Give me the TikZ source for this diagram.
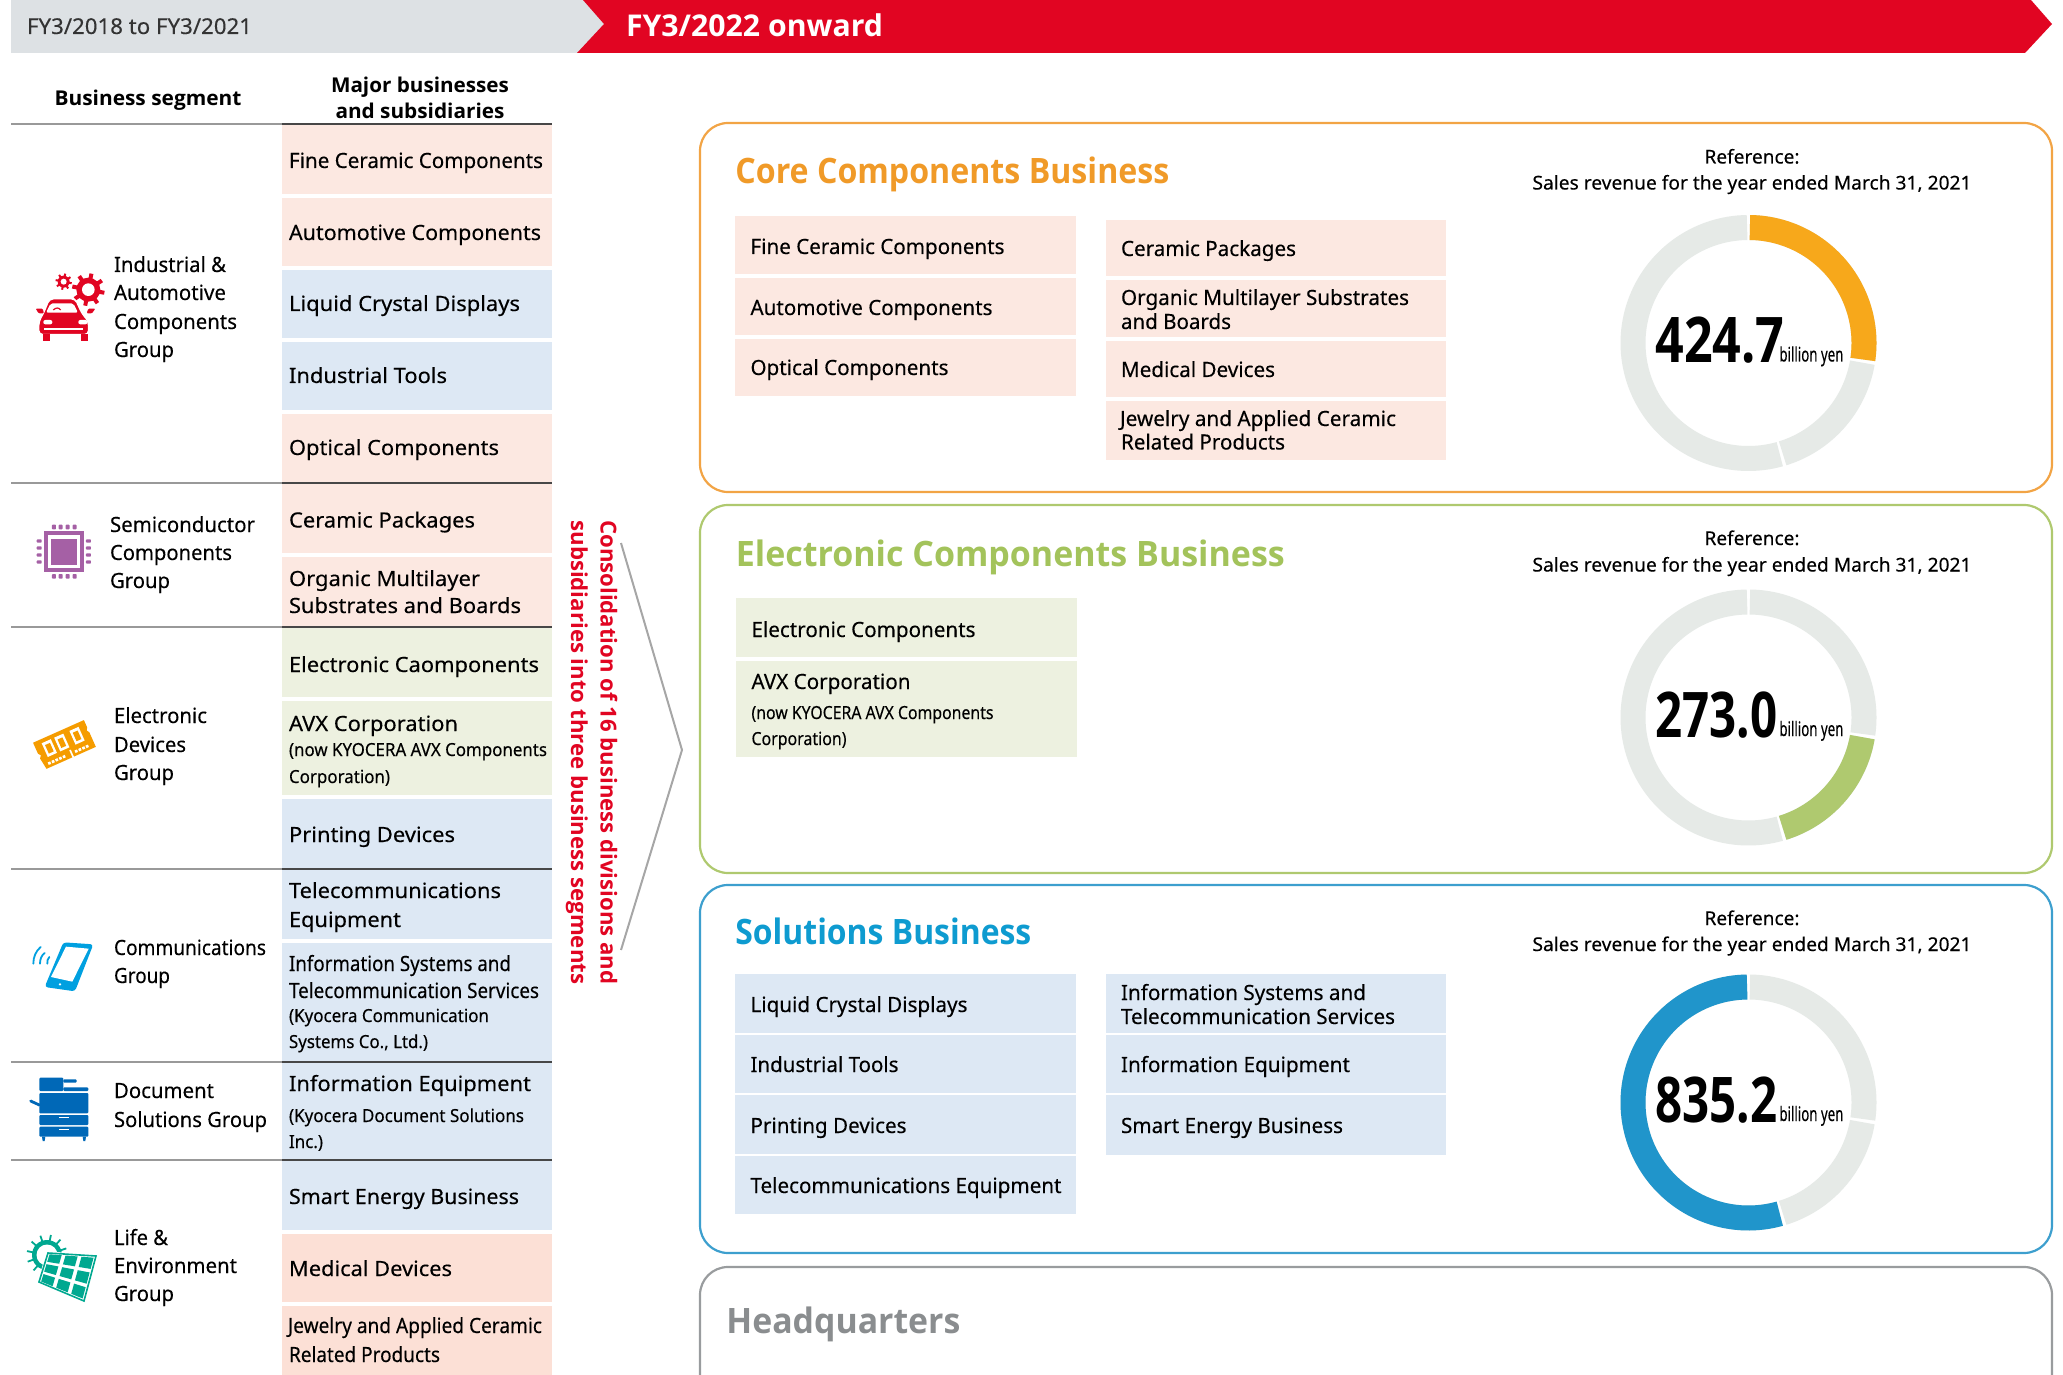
\documentclass[tikz,border=0pt]{standalone}
\usepackage{graphicx}
\usepackage{fontspec}
\setmainfont{Noto Sans}[FakeBold=0.25]
\newfontfamily\bfam{Open Sans}
\usetikzlibrary{calc}
\definecolor{peach}{HTML}{FCE8E1}
\definecolor{peachb}{HTML}{FCE0D6}
\definecolor{sky}{HTML}{DDE8F4}
\definecolor{lgreen}{HTML}{EDF1E0}
\definecolor{barg}{HTML}{DDE1E4}
\definecolor{kred}{HTML}{E10522}
\definecolor{torange}{HTML}{F09A28}
\definecolor{borange}{HTML}{F2A445}
\definecolor{dorange}{HTML}{F7A81B}
\definecolor{tgreen}{HTML}{A3C35B}
\definecolor{bgreen}{HTML}{AFC96F}
\definecolor{tblue}{HTML}{0E9BD0}
\definecolor{bblue}{HTML}{3D9FCE}
\definecolor{dblue}{HTML}{2095CB}
\definecolor{bgray}{HTML}{999C9E}
\definecolor{hqgray}{HTML}{8A8D8F}
\definecolor{ring}{HTML}{E6EAE7}
\definecolor{ipurple}{HTML}{A560A5}
\definecolor{iorange}{HTML}{F59C00}
\definecolor{iphone}{HTML}{00A0E0}
\definecolor{iprint}{HTML}{0068B7}
\definecolor{iteal}{HTML}{00A890}
\newcount\tcnt
\newsavebox\fitbox
\newcommand\fit[2]{\sbox\fitbox{#2}\pgfmathsetmacro\fitr{#1*0.5/\wd\fitbox}\scalebox{\fitr}[1]{\usebox\fitbox}}
\tikzset{
  txt/.style={anchor=base west,inner sep=0pt,outer sep=0pt,text=black,font=\fontsize{10.5pt}{12pt}\selectfont},
  small/.style={txt,font=\fontsize{9pt}{12pt}\selectfont},
  seg/.style={txt,font=\fontsize{10.5pt}{12pt}\selectfont},
  hdr/.style={anchor=base,inner sep=0pt,text=black,font=\bfam\bfseries\fontsize{10.2pt}{12pt}\selectfont},
  ttl/.style={anchor=base west,inner sep=0pt,font=\bfam\bfseries\fontsize{17.5pt}{20pt}\selectfont},
  refr/.style={anchor=base,inner sep=0pt,text=black,font=\fontsize{9.5pt}{12pt}\selectfont},
  panel/.style={line width=1.1pt,rounded corners=14pt,fill=white},
  lineg/.style={draw=black!40,line width=1pt},
  lined/.style={draw=black!72,line width=1pt},
  vert/.style={anchor=base west,rotate=-90,inner sep=0pt,text=kred,font=\bfam\bfseries\fontsize{11pt}{12pt}\selectfont},
}
\newcommand\bx[5]{\fill[#5] (#1,#2) rectangle (#3,#4);}
\newcommand\tx[5][txt]{\global\advance\tcnt by 1 \node[#1] (t\the\tcnt) at (#2,#3) {\fit{#4}{#5}};}
\newcommand\gearshape[7]{% x y rroot rhole teeth color toothwidth
  \fill[#6] (#1,#2) circle[radius=#3];
  \foreach \aa in {1,...,#5}{
    \draw[#6,line width=#7] ($(#1,#2)+({\aa*360/#5+11}:#3*0.8)$) -- ($(#1,#2)+({\aa*360/#5+11}:#3*1.36)$);
  }
  \fill[white] (#1,#2) circle[radius=#4];
}
\newcommand\donut[6]{% cy, col, a1,a2, number, width
  \coordinate (dc) at (1748.5,#1);
  \foreach \p/\q/\cc in {-89.3/8.2/ring,9.8/72.8/ring,74.3/269.3/ring}{
    \draw[line width=12.5pt,\cc,domain=\p:\q,samples=90] plot ({1748.5+115.5*cos(\x)},{#1+115.5*sin(\x)});
  }
  \draw[line width=12.5pt,#2,domain=#3:#4,samples=90] plot ({1748.5+115.5*cos(\x)},{#1+115.5*sin(\x)});
  \global\advance\tcnt by 1
  \node[anchor=base west,inner sep=0pt,text=black,font=\bfam\bfseries\fontsize{31.5pt}{32pt}\selectfont] (t\the\tcnt) at (1655,#1+20) {\fit{#6}{#5}};
  \global\advance\tcnt by 1
  \node[anchor=base west,inner sep=0pt,text=black,font=\fontsize{10pt}{12pt}\selectfont] (t\the\tcnt) at (1779,#1+18.5) {\fit{64}{billion yen}};
}
\begin{document}
\begin{tikzpicture}[x=0.5pt,y=-0.5pt]
\useasboundingbox (0,0) rectangle (2063,1375);
% top bar
\fill[barg] (11,0) -- (590,0) -- (604,24) -- (584,53) -- (11,53) -- cycle;
\fill[kred] (583,0) -- (2031,0) -- (2052,24) -- (2025,53) -- (577,53) -- (604,24) -- cycle;
\tx[txt,text=black!80,font=\fontsize{10.9pt}{12pt}\selectfont]{27}{34}{225}{FY3/2018 to FY3/2021}
\tx[txt,text=white,font=\bfam\bfseries\fontsize{15pt}{18pt}\selectfont]{626}{37}{257}{FY3/2022 onward}
% headers
\tx[hdr]{148}{105.5}{187}{Business segment}
\tx[hdr]{420}{92.5}{178}{Major businesses}
\tx[hdr]{420}{118.5}{169}{and subsidiaries}
% left table boxes
\bx{282}{124}{552}{194}{peach}
\bx{282}{198}{552}{266}{peach}
\bx{282}{270}{552}{338}{sky}
\bx{282}{342}{552}{410}{sky}
\bx{282}{414}{552}{483}{peach}
\bx{282}{483}{552}{553}{peach}
\bx{282}{557}{552}{627}{peach}
\bx{282}{627}{552}{697}{lgreen}
\bx{282}{701}{552}{795}{lgreen}
\bx{282}{799}{552}{869}{sky}
\bx{282}{869}{552}{939}{sky}
\bx{282}{943}{552}{1062}{sky}
\bx{282}{1062}{552}{1160}{sky}
\bx{282}{1160}{552}{1230}{sky}
\bx{282}{1234}{552}{1302}{peachb}
\bx{282}{1306}{552}{1375}{peachb}
% separators
\foreach \yy in {124,483,627,869,1062,1160}{
  \draw[lineg] (11,\yy) -- (282,\yy);
  \draw[lined] (282,\yy) -- (552,\yy);
}
% left table text
\tx{289}{168}{254}{Fine Ceramic Components}
\tx{289}{240}{252}{Automotive Components}
\tx{289}{311}{231}{Liquid Crystal Displays}
\tx{289}{383}{158}{Industrial Tools}
\tx{289}{455}{210}{Optical Components}
\tx{289}{527.5}{186}{Ceramic Packages}
\tx{289}{586}{191}{Organic Multilayer}
\tx{289}{613}{232}{Substrates and Boards}
\tx{289}{672}{250}{Electronic Caomponents}
\tx{289}{731}{169}{AVX Corporation}
\tx[small]{289}{756}{258}{(now KYOCERA AVX Components}
\tx[small]{289}{783}{101}{Corporation)}
\tx{289}{842}{166}{Printing Devices}
\tx{289}{898}{212}{Telecommunications}
\tx{289}{927}{112}{Equipment}
\tx{289}{971}{222}{Information Systems and}
\tx{289}{998}{250}{Telecommunication Services}
\tx[small]{289}{1022}{200}{(Kyocera Communication}
\tx[small]{289}{1048}{139}{Systems Co., Ltd.)}
\tx{289}{1091}{242}{Information Equipment}
\tx[small]{289}{1122}{235}{(Kyocera Document Solutions}
\tx[small]{289}{1148}{34}{Inc.)}
\tx{289}{1204}{230}{Smart Energy Business}
\tx{289}{1276}{163}{Medical Devices}
\tx{288}{1333}{254}{Jewelry and Applied Ceramic}
\tx{289}{1362}{151}{Related Products}
% segment text
\tx[seg]{114}{272}{112}{Industrial \&}
\tx[seg]{114}{300}{112}{Automotive}
\tx[seg]{114}{329}{123}{Components}
\tx[seg]{114}{357}{60}{Group}
\tx[seg]{110}{532}{145}{Semiconductor}
\tx[seg]{110}{560}{122}{Components}
\tx[seg]{110}{588}{60}{Group}
\tx[seg]{114}{723}{93}{Electronic}
\tx[seg]{114}{752}{72}{Devices}
\tx[seg]{114}{780}{60}{Group}
\tx[seg]{114}{955}{152}{Communications}
\tx[seg]{114}{983}{56}{Group}
\tx[seg]{114}{1098}{100}{Document}
\tx[seg]{114}{1127}{153}{Solutions Group}
\tx[seg]{114}{1245}{54}{Life \&}
\tx[seg]{114}{1273}{123}{Environment}
\tx[seg]{114}{1301}{60}{Group}
% vertical text
\node[vert] (vt1) at (600.5,520) {\fit{464}{Consolidation of 16 business divisions and}};
\node[vert] (vt2) at (571,520) {\fit{464}{subsidiaries into three business segments}};
\coordinate (ch1) at (621,543);
\coordinate (ch2) at (682,750);
\coordinate (ch3) at (621,950);
\draw[draw=black!35,line width=1pt] (ch1) -- (ch2) -- (ch3);
% panels
\draw[panel,draw=borange] (700,123) rectangle (2052,492);
\draw[panel,draw=bgreen] (700,505) rectangle (2052,873);
\draw[panel,draw=bblue] (700,885) rectangle (2052,1253);
\draw[line width=1.1pt,rounded corners=14pt,draw=bgray] (700,1400) -- (700,1267) -- (2052,1267) -- (2052,1400);
% titles
\tx[ttl,text=torange]{735}{183.5}{434}{Core Components Business}
\tx[ttl,text=tgreen]{735.5}{566.5}{549}{Electronic Components Business}
\tx[ttl,text=tblue]{735}{944.5}{296}{Solutions Business}
\tx[ttl,text=hqgray]{726}{1333.5}{234}{Headquarters}
% panel 1 boxes
\bx{735}{216}{1076}{274}{peach}
\bx{735}{278}{1076}{335}{peach}
\bx{735}{339}{1076}{396}{peach}
\bx{1106}{220}{1446}{276}{peach}
\bx{1106}{280}{1446}{337}{peach}
\bx{1106}{341}{1446}{397}{peach}
\bx{1106}{401}{1446}{460}{peach}
\tx{750.5}{254}{254}{Fine Ceramic Components}
\tx{750.5}{315}{242}{Automotive Components}
\tx{750.5}{375}{198}{Optical Components}
\tx{1121}{256}{175}{Ceramic Packages}
\tx{1121}{305}{288}{Organic Multilayer Substrates}
\tx{1121}{329}{110}{and Boards}
\tx{1121}{377}{154}{Medical Devices}
\tx{1120}{426}{276}{Jewelry and Applied Ceramic}
\tx{1121}{449.5}{164}{Related Products}
% panel 2 boxes
\bx{736}{598}{1077}{657}{lgreen}
\bx{736}{661}{1077}{757}{lgreen}
\tx{751.5}{637}{224}{Electronic Components}
\tx{751.5}{689}{159}{AVX Corporation}
\tx[small]{751.5}{719}{242}{(now KYOCERA AVX Components}
\tx[small]{751.5}{745}{95}{Corporation)}
% panel 3 boxes
\bx{735}{974}{1076}{1033}{sky}
\bx{735}{1035}{1076}{1093}{sky}
\bx{735}{1095}{1076}{1154}{sky}
\bx{735}{1156}{1076}{1214}{sky}
\bx{1106}{974}{1446}{1033}{sky}
\bx{1106}{1035}{1446}{1093}{sky}
\bx{1106}{1095}{1446}{1155}{sky}
\tx{750.5}{1012}{217}{Liquid Crystal Displays}
\tx{750.5}{1072}{148}{Industrial Tools}
\tx{750.5}{1133}{156}{Printing Devices}
\tx{750.5}{1193}{311}{Telecommunications Equipment}
\tx{1121}{1000}{245}{Information Systems and}
\tx{1121}{1024}{274}{Telecommunication Services}
\tx{1121}{1072}{229}{Information Equipment}
\tx{1121}{1133}{222}{Smart Energy Business}
% reference texts
\tx[refr]{1752}{163.5}{95}{Reference:}
\tx[refr]{1752}{189.5}{439}{Sales revenue for the year ended March 31, 2021}
\tx[refr]{1752}{545}{95}{Reference:}
\tx[refr]{1752}{571.5}{439}{Sales revenue for the year ended March 31, 2021}
\tx[refr]{1752}{925}{95}{Reference:}
\tx[refr]{1752}{951}{439}{Sales revenue for the year ended March 31, 2021}
% donuts
\donut{343}{dorange}{-89.3}{8.2}{424.7}{129}
\donut{717.5}{bgreen}{9.8}{72.8}{273.0}{122}
\donut{1102.5}{dblue}{74.3}{269.3}{835.2}{122}
% car icon
\begin{scope}[shift={(20,260)},scale=1/3]
 \gearshape{131}{65}{18}{9}{8}{kred}{1pt}
 \gearshape{205}{89}{36}{19}{8}{kred}{2pt}
 \fill[kred,draw=white,line width=0.8pt,rounded corners=2pt] (88,116) -- (166,116) -- (186,160) -- (206,184) -- (206,224) -- (56,224) -- (56,184) -- (70,160) -- cycle;
 \fill[kred,rounded corners=0.5pt] (47,146) -- (68,146) -- (72,160) -- (56,160) -- cycle;
 \fill[kred,rounded corners=0.5pt] (205,146) -- (226,146) -- (216,160) -- (200,160) -- cycle;
 \fill[kred] (68,222) rectangle (90,243);
 \fill[kred] (182,222) rectangle (205,243);
 \fill[white,rounded corners=1pt] (92,130) -- (160,130) -- (174,158) -- (78,158) -- cycle;
 \draw[kred,line width=0.6pt] (100,150) .. controls (108,142) and (116,142) .. (122,150);
 \fill[white,rounded corners=1pt] (70,180) rectangle (97,193);
 \fill[white,rounded corners=1pt] (175,180) rectangle (202,193);
 \draw[white,line width=0.6pt] (72,207) -- (190,207);
\end{scope}
% chip icon
\begin{scope}[shift={(20,510)},scale=1/3]
 \fill[ipurple] (71,64) rectangle (193,186);
 \fill[white] (83,76) rectangle (181,174);
 \fill[ipurple] (93,86) rectangle (172,166);
 \foreach \a in {96,116,137,158}{
  \fill[ipurple,rounded corners=0.4pt] (\a,44) rectangle ++(12,14);
  \fill[ipurple,rounded corners=0.4pt] (\a,192) rectangle ++(12,14);
 }
 \foreach \a in {88,109,130,151}{
  \fill[ipurple,rounded corners=0.4pt] (50,\a) rectangle ++(15,10);
  \fill[ipurple,rounded corners=0.4pt] (198,\a) rectangle ++(15,10);
 }
\end{scope}
% memory icon
\begin{scope}[shift={(20,710)},scale=1/3,shift={(132,105)},rotate=24]
 \fill[iorange] (-82,-44) -- (85,-44) -- (85,-20) -- (80,-12) -- (85,-4) -- (85,44) -- (-77,44) -- (-82,8) -- (-76,0) -- (-82,-8) -- cycle;
 \foreach \u in {-44,-3,47}{
  \fill[white] (\u-15,-32) rectangle (\u+15,13);
  \fill[iorange] (\u-8,-23) rectangle (\u+8,5);
 }
 \foreach \u in {-62,-50,-38,-26,-14,26,38,50,62}{
  \fill[white] (\u-4,28) rectangle (\u+4,36);
 }
 \fill[white] (8,21) rectangle (13,46);
\end{scope}
% phone icon
\begin{scope}[shift={(20,925)},scale=1/3]
 \fill[iphone,rounded corners=1.5pt] (130,52) -- (220,58) -- (165,199) -- (74,186) -- cycle;
 \fill[white] (138,65) -- (206,71) -- (157,170) -- (93,156) -- cycle;
 \fill[white] (120,178) circle[radius=4];
 \draw[iphone,line width=0.9pt,line cap=round] (62,66) .. controls (48,78) and (40,95) .. (40,116);
 \draw[iphone,line width=0.9pt,line cap=round] (74,84) .. controls (64,92) and (60,103) .. (60,116);
 \draw[iphone,line width=0.9pt,line cap=round] (88,96) .. controls (83,102) and (81,108) .. (82,116);
\end{scope}
% printer icon
\begin{scope}[shift={(20,1065)},scale=1/3]
 \fill[iprint,rounded corners=0.5pt] (58,38) rectangle (130,78);
 \fill[iprint,rounded corners=0.5pt] (130,43) rectangle (170,53);
 \fill[iprint,rounded corners=0.5pt] (130,67) rectangle (205,78);
 \fill[iprint,rounded corners=0.5pt] (58,84) rectangle (205,145);
 \draw[iprint,line width=1.4pt,line cap=round] (32,108) -- (58,120);
 \fill[iprint,rounded corners=0.5pt] (58,150) rectangle (205,180);
 \fill[iprint,rounded corners=0.5pt] (58,185) rectangle (205,215);
 \fill[white] (117,155) rectangle (146,160);
 \fill[white] (117,191) rectangle (146,196);
 \fill[iprint] (66,215) -- (76,215) -- (74,228) -- (68,228) -- cycle;
 \fill[iprint] (188,215) -- (198,215) -- (196,228) -- (190,228) -- cycle;
\end{scope}
% solar icon
\gearshape{47}{1255}{15}{10.5}{12}{iteal}{0.9pt}
\coordinate (p00) at (48,1253);
\coordinate (p10) at (96,1256);
\coordinate (p01) at (39,1282);
\coordinate (p11) at (84,1301);
\fill[white,draw=white,line width=1.5pt] (p00) -- (p10) -- (p11) -- (p01) -- cycle;
\draw[iteal,line width=0.8pt,fill=white] (p00) -- (p10) -- (p11) -- (p01) -- cycle;
\foreach \i in {0,1,2}{\foreach \j in {0,1,2}{
  \pgfmathsetmacro\ua{(\i+.12)/3}\pgfmathsetmacro\ub{(\i+.88)/3}
  \pgfmathsetmacro\va{(\j+.12)/3}\pgfmathsetmacro\vb{(\j+.88)/3}
  \fill[iteal] ($($(p00)!\ua!(p10)$)!\va!($(p01)!\ua!(p11)$)$) -- ($($(p00)!\ub!(p10)$)!\va!($(p01)!\ub!(p11)$)$) -- ($($(p00)!\ub!(p10)$)!\vb!($(p01)!\ub!(p11)$)$) -- ($($(p00)!\ua!(p10)$)!\vb!($(p01)!\ua!(p11)$)$) -- cycle;
}}
\end{tikzpicture}
\end{document}
